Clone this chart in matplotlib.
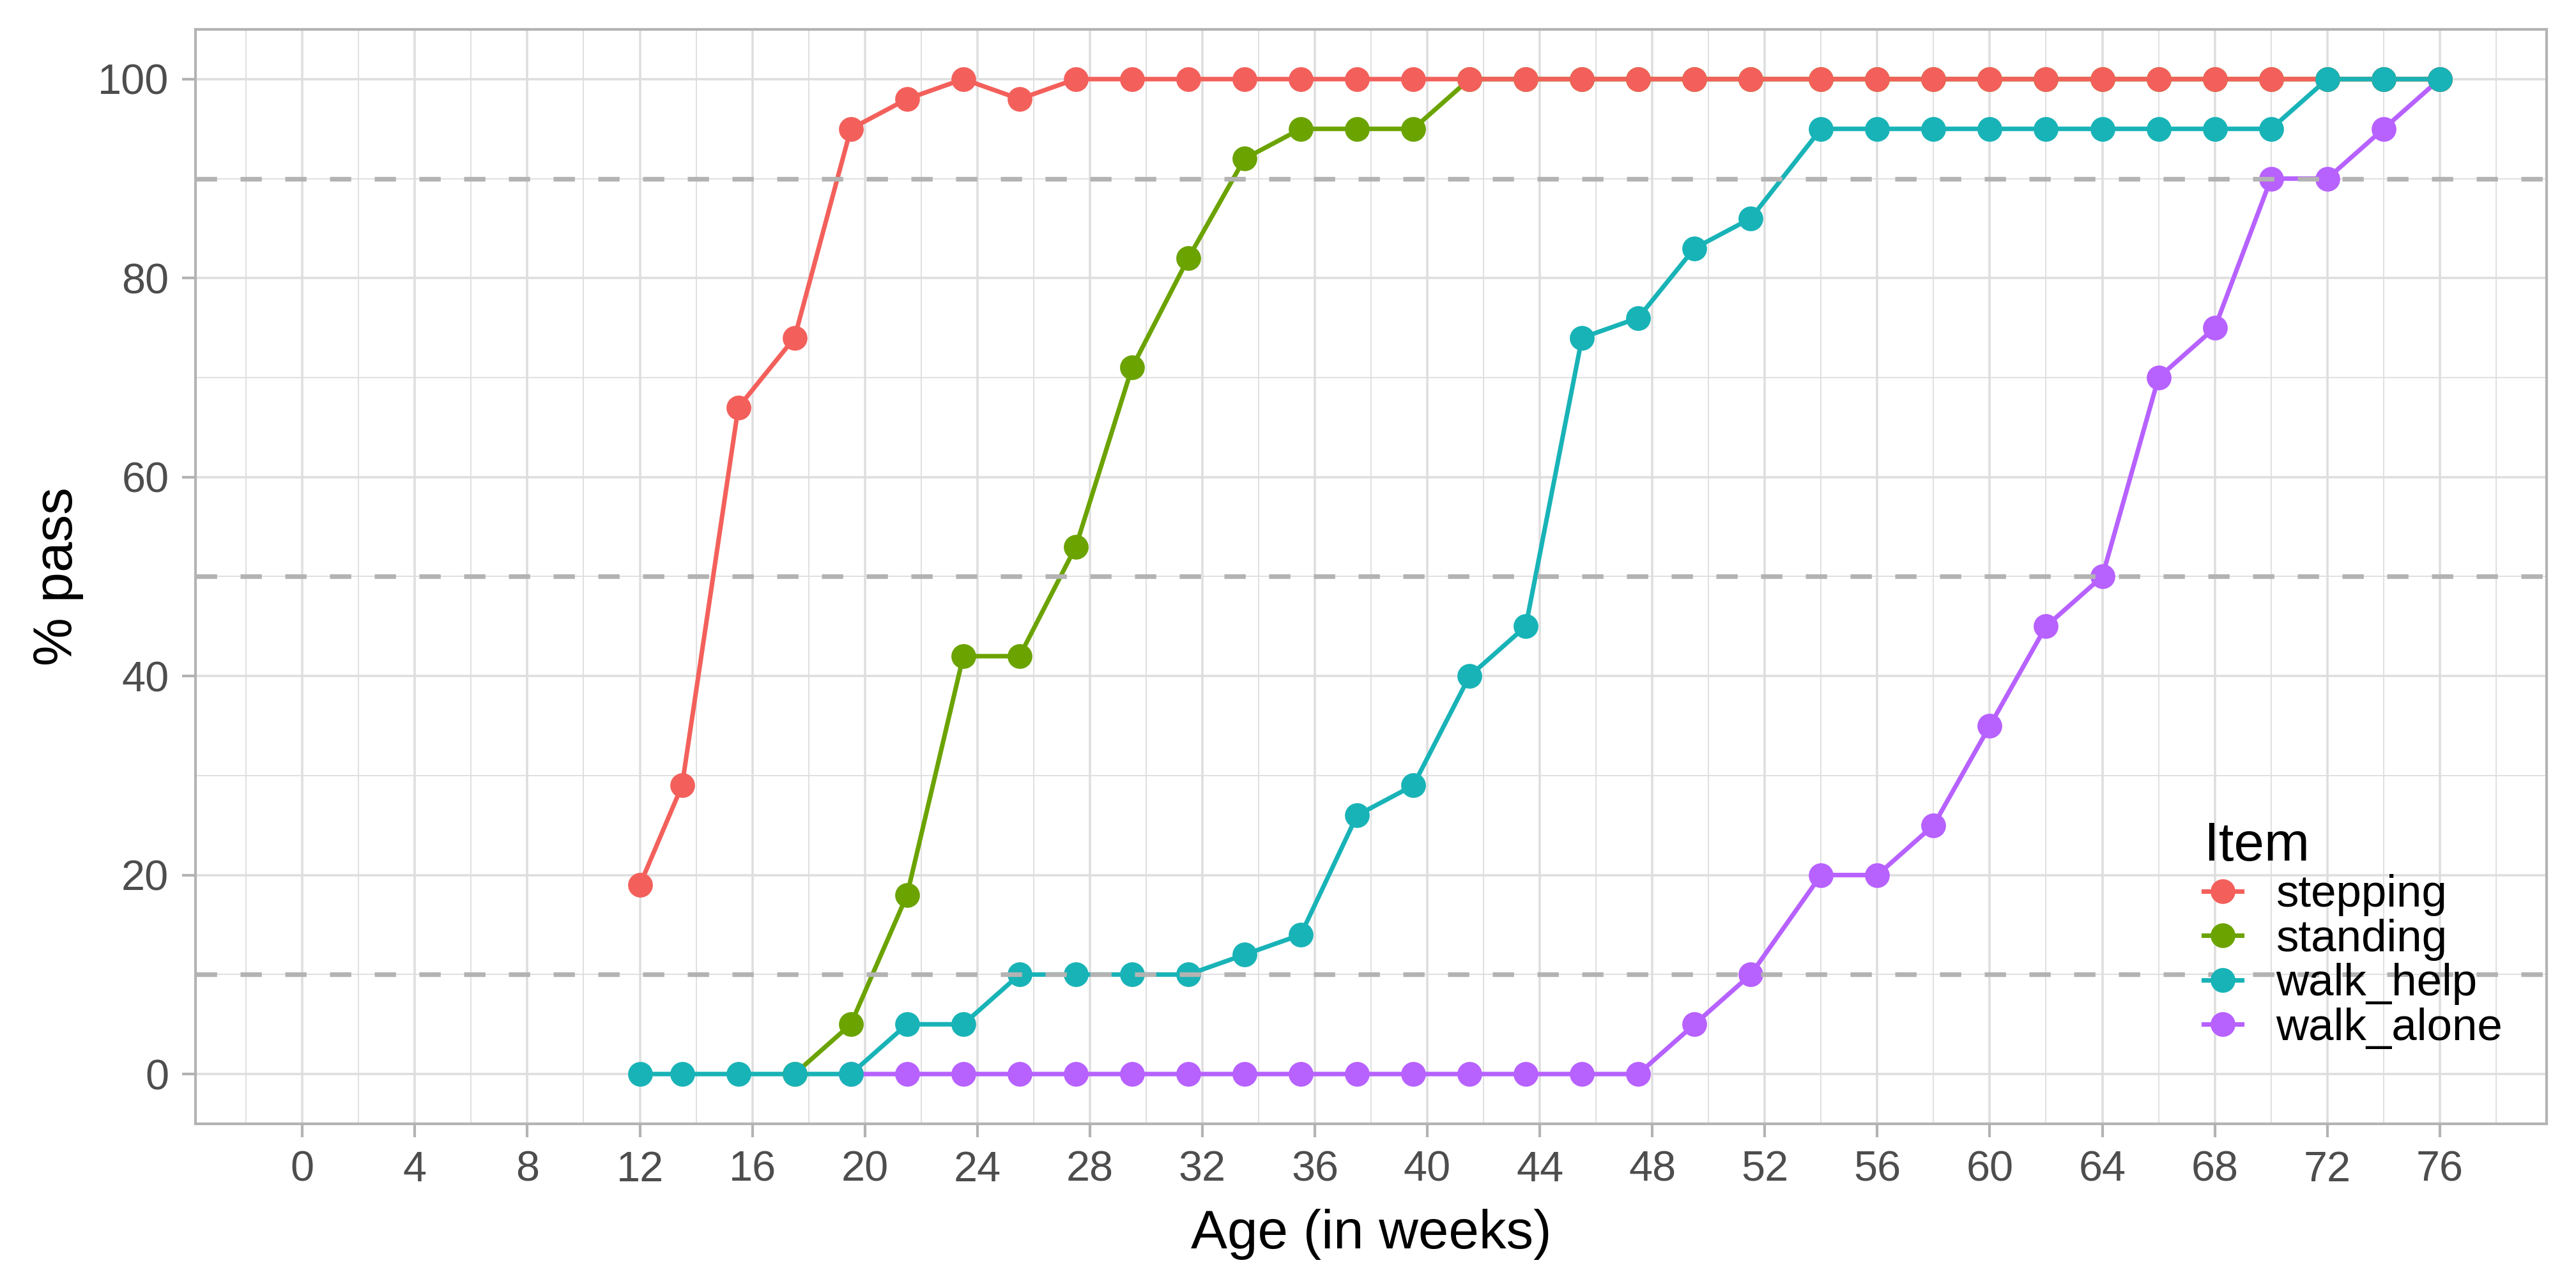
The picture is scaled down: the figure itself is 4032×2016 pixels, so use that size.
import matplotlib
matplotlib.use("Agg")
import matplotlib.pyplot as plt
import numpy as np

plt.rcParams['font.family'] = ['Liberation Sans', 'DejaVu Sans']

# ---- data ----
items = ["stepping", "standing", "walk_help", "walk_alone"]
colors = {"stepping": "#F3605B", "standing": "#6BA300",
          "walk_help": "#18B3B7", "walk_alone": "#B761FF"}

ages_all = [12, 13.5, 15.5, 17.5, 19.5, 21.5, 23.5, 25.5, 27.5, 29.5, 31.5,
            33.5, 35.5, 37.5, 39.5, 41.5, 43.5, 45.5, 47.5, 49.5, 51.5,
            54, 56, 58, 60, 62, 64, 66, 68, 70, 72, 74, 76]

stepping_age = ages_all
stepping_pct = [19, 29, 67, 74, 95, 98, 100, 98] + [100] * 25

standing_age = ages_all[3:]
standing_pct = [0, 5, 18, 42, 42, 53, 71, 82, 92, 95, 95, 95] + [100] * 18

walk_help_age = ages_all
walk_help_pct = [0, 0, 0, 0, 0, 5, 5, 10, 10, 10, 10, 12, 14, 26, 29, 40, 45,
                 74, 76, 83, 86, 95, 95, 95, 95, 95, 95, 95, 95, 95, 100, 100, 100]

walk_alone_age = ages_all[4:]
walk_alone_pct = [0] * 15 + [5, 10, 20, 20, 25, 35, 45, 50, 70, 75, 90, 90, 95, 100]

series = {"stepping": (stepping_age, stepping_pct),
          "standing": (standing_age, standing_pct),
          "walk_help": (walk_help_age, walk_help_pct),
          "walk_alone": (walk_alone_age, walk_alone_pct)}

ref_lines = [10, 50, 90]
x_ticks = list(range(0, 77, 4))
y_ticks = [0, 20, 40, 60, 80, 100]

# ---- figure ----
fig = plt.figure(figsize=(13.44, 6.72), dpi=300)
ax = fig.add_axes([0.0759, 0.1275, 0.9886 - 0.0759, 0.9772 - 0.1275])

line_z = {"standing": 2.0, "stepping": 2.1, "walk_help": 2.2, "walk_alone": 2.3}
point_z = {"walk_alone": 3.0, "standing": 3.1, "stepping": 3.2, "walk_help": 3.3}

LW = 1.7
MS = 9.3

for it in items:
    xs, ys = series[it]
    ax.plot(xs, ys, color=colors[it], lw=LW, zorder=line_z[it],
            solid_capstyle='butt')
    ax.plot(xs, ys, linestyle='none', marker='o', ms=MS, mew=0,
            color=colors[it], zorder=point_z[it])

for y in ref_lines:
    ax.axhline(y, color="#B3B3B3", lw=1.75, linestyle=(0, (4.57, 5.03)),
               zorder=4)

ax.set_xlim(-3.8, 79.8)
ax.set_ylim(-5, 105)
ax.set_xticks(x_ticks)
ax.set_xticks(np.arange(-2, 80, 2), minor=True)
ax.set_yticks(y_ticks)
ax.set_yticks([10, 30, 50, 70, 90], minor=True)

ax.grid(which='major', color="#DEDEDE", lw=0.85, zorder=0)
ax.grid(which='minor', color="#DEDEDE", lw=0.45, zorder=0)
ax.set_axisbelow(True)

for sp in ax.spines.values():
    sp.set_color("#B3B3B3")
    sp.set_linewidth(1.0)

ax.tick_params(which='major', length=5, width=1.0, color="#B3B3B3",
               labelsize=16, labelcolor="#4D4D4D", pad=5)
ax.tick_params(which='minor', length=0)

ax.set_xlabel("Age (in weeks)", fontsize=20.5, color="black", labelpad=7)
ax.set_ylabel("% pass", fontsize=20.5, color="black", labelpad=5.3)

handles = [plt.Line2D([], [], color=colors[it], lw=LW, marker='o', ms=MS,
                      mew=0) for it in items]
leg = ax.legend(handles, items, title="Item", loc='upper left',
                bbox_to_anchor=(0.8445, 0.2975), frameon=False,
                fontsize=17, title_fontsize=20.5, alignment='left',
                borderpad=0, labelspacing=0.05, handlelength=0.85,
                handletextpad=0.75)
leg.set_zorder(10)

fig.savefig("out.png", dpi=300)
